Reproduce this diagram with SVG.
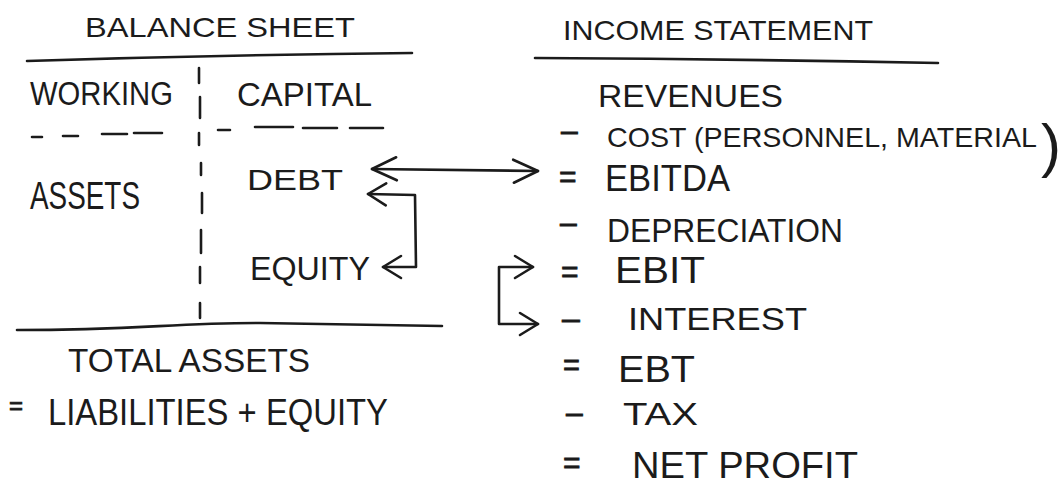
<svg xmlns="http://www.w3.org/2000/svg" width="1062" height="492" viewBox="0 0 1062 492">
  <style>
    .t { font-family: "Liberation Sans", Arial, sans-serif; fill: #1b1b1b; }
    .op { font-family: "Liberation Sans", Arial, sans-serif; fill: #1b1b1b; stroke: #1b1b1b; stroke-width: 0.8; }
    .ln { fill: none; stroke: #1b1b1b; stroke-width: 2.6; stroke-linecap: round; stroke-linejoin: round; }
    .cn { fill: none; stroke: #1b1b1b; stroke-width: 2.6; stroke-linecap: round; stroke-linejoin: round; }
  </style>
  <defs>
    <marker id="headBig" viewBox="0 0 30 28" refX="27" refY="14" markerWidth="30" markerHeight="28" markerUnits="userSpaceOnUse" orient="auto-start-reverse">
      <path d="M2,3 L27,14 L3,26" fill="none" stroke="#1b1b1b" stroke-width="2.6" stroke-linecap="round" stroke-linejoin="round"/>
    </marker>
    <marker id="head" viewBox="0 0 24 28" refX="21" refY="14" markerWidth="24" markerHeight="28" markerUnits="userSpaceOnUse" orient="auto-start-reverse">
      <path d="M3,3 L21,14 L3,25" fill="none" stroke="#1b1b1b" stroke-width="2.6" stroke-linecap="round" stroke-linejoin="round"/>
    </marker>
  </defs>
  <rect width="1062" height="492" fill="#ffffff"/>

  <!-- Balance sheet -->
  <g id="balance-sheet-title">
    <text class="t" x="85" y="37" font-size="28" textLength="270" lengthAdjust="spacingAndGlyphs">BALANCE SHEET</text>
    <path class="ln" d="M27,61 Q220,55 412,53"/>
  </g>
  <g id="divider">
    <path class="ln" d="M199,68 V83 M200,97 V118 M199,133 V145 M201,163 V175 M202,193 V213 M201,230 V253 M200,267 V283 M200,303 V318"/>
    <path class="ln" d="M32,137 H42 M63,136 H78 M102,134 H127 M134,133 H162 M218,130 H230 M255,127 H293 M303,128 H337 M350,128 H383"/>
  </g>
  <g id="working">
    <text class="t" x="30" y="105" font-size="34" textLength="143" lengthAdjust="spacingAndGlyphs">WORKING</text>
  </g>
  <g id="capital">
    <text class="t" x="237" y="106" font-size="34" textLength="135" lengthAdjust="spacingAndGlyphs">CAPITAL</text>
  </g>
  <g id="assets">
    <text class="t" x="30" y="209" font-size="38" textLength="110" lengthAdjust="spacingAndGlyphs">ASSETS</text>
  </g>
  <g id="debt">
    <text class="t" x="247" y="190" font-size="30" textLength="96" lengthAdjust="spacingAndGlyphs">DEBT</text>
  </g>
  <g id="equity">
    <text class="t" x="250" y="280" font-size="34" textLength="120" lengthAdjust="spacingAndGlyphs">EQUITY</text>
  </g>
  <g id="total">
    <path class="ln" d="M17,330 C140,330 170,323 260,323 L442,326"/>
    <text class="t" x="68" y="372" font-size="34" textLength="242" lengthAdjust="spacingAndGlyphs">TOTAL ASSETS</text>
    <text class="op" x="9" y="414" font-size="24">=</text>
    <text class="t" x="48" y="425" font-size="36" textLength="340" lengthAdjust="spacingAndGlyphs">LIABILITIES + EQUITY</text>
  </g>

  <!-- Income statement -->
  <g id="income-statement-title">
    <text class="t" x="563" y="40" font-size="28" textLength="310" lengthAdjust="spacingAndGlyphs">INCOME STATEMENT</text>
    <path class="ln" d="M535,58 Q735,59 938,63"/>
  </g>
  <g id="revenues">
    <text class="t" x="598" y="107" font-size="32" textLength="185" lengthAdjust="spacingAndGlyphs">REVENUES</text>
  </g>
  <g id="cost">
    <text class="op" x="561" y="141" font-size="30">–</text>
    <text class="t" x="607" y="147" font-size="28.5" textLength="430" lengthAdjust="spacingAndGlyphs">COST (PERSONNEL, MATERIAL</text>
    <text class="t" x="1041" y="166" font-size="60">)</text>
  </g>
  <g id="ebitda">
    <text class="op" x="559" y="187" font-size="30">=</text>
    <text class="t" x="605" y="191" font-size="36" textLength="125" lengthAdjust="spacingAndGlyphs">EBITDA</text>
  </g>
  <g id="depreciation">
    <text class="op" x="560" y="233" font-size="30">–</text>
    <text class="t" x="607" y="242" font-size="34" textLength="236" lengthAdjust="spacingAndGlyphs">DEPRECIATION</text>
  </g>
  <g id="ebit">
    <text class="op" x="561" y="282" font-size="30">=</text>
    <text class="t" x="615" y="283" font-size="36" textLength="90" lengthAdjust="spacingAndGlyphs">EBIT</text>
  </g>
  <g id="interest">
    <text class="op" x="562" y="329" font-size="32">–</text>
    <text class="t" x="628" y="330" font-size="32" textLength="179" lengthAdjust="spacingAndGlyphs">INTEREST</text>
  </g>
  <g id="ebt">
    <text class="op" x="563" y="375" font-size="29">=</text>
    <text class="t" x="618" y="382" font-size="36" textLength="77" lengthAdjust="spacingAndGlyphs">EBT</text>
  </g>
  <g id="tax">
    <text class="op" x="566" y="423" font-size="30">–</text>
    <text class="t" x="623" y="425" font-size="32" textLength="75" lengthAdjust="spacingAndGlyphs">TAX</text>
  </g>
  <g id="net-profit">
    <text class="op" x="563" y="473" font-size="30">=</text>
    <text class="t" x="632" y="478" font-size="36" textLength="226" lengthAdjust="spacingAndGlyphs">NET PROFIT</text>
  </g>

  <!-- Connectors -->
  <g id="connectors">
    <path class="cn" d="M372,169 L538,171" marker-start="url(#headBig)" marker-end="url(#headBig)"/>
    <path class="cn" d="M368,194 L415,195 L416,267 L383,267" marker-start="url(#head)" marker-end="url(#head)"/>
    <path class="cn" d="M533,267 L499,267 L499,324 L538,324" marker-start="url(#head)" marker-end="url(#head)"/>
  </g>
</svg>
